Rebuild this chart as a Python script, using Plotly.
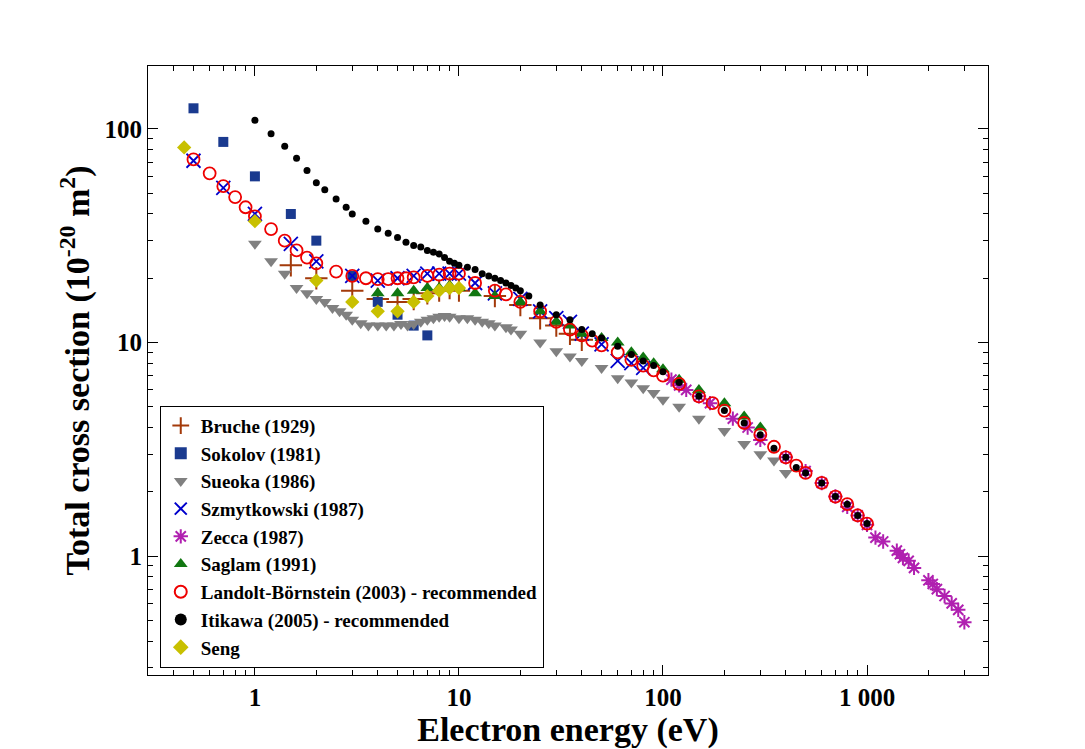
import plotly.graph_objects as go

bruche_x = [1.5, 2, 3, 4, 5, 6, 7, 8, 9, 10, 15, 20, 25, 30, 35, 40]
bruche_y = [23, 20, 17.5, 16, 15.5, 16, 17, 17.5, 18, 17.5, 16.5, 15, 13, 12, 11, 10.3]

sokolov_x = [0.5, 0.7, 1, 1.5, 2, 3, 4, 5, 6, 7]
sokolov_y = [125, 87, 60, 40, 30, 20.5, 15.5, 13.5, 12, 10.8]

sueoka_x = [1, 1.2, 1.4, 1.6, 1.8, 2, 2.2, 2.4, 2.6, 2.8, 3, 3.3, 3.6, 4, 4.4, 4.8, 5.2,
            5.6, 6, 6.5, 7, 7.5, 8, 8.5, 9, 10, 11, 12, 13, 14, 15, 17, 18, 20, 25, 30,
            35, 40, 50, 60, 70, 80, 90, 100, 120, 150, 200, 250, 300, 350, 400]
sueoka_y = [29, 24, 21, 18, 17, 16, 15.5, 14.5, 14, 13.5, 12.8, 12.3, 12, 12, 12, 12, 12.2,
            12, 12.2, 12.5, 12.8, 13, 13.2, 13.3, 13.2, 13, 13, 12.8, 12.5, 12.3, 12, 11.8,
            11.5, 11, 10, 9.1, 8.6, 8.2, 7.6, 6.8, 6.5, 6.1, 5.8, 5.4, 5.0, 4.4, 3.85,
            3.35, 3.0, 2.8, 2.45]

szmyt_x = [0.5, 0.7, 1, 1.5, 2, 3, 4, 5, 6, 7, 8, 9, 10, 12, 15, 20, 25, 30, 35, 40,
           50, 60, 70, 80]
szmyt_y = [71, 53, 40, 29, 24, 20.5, 19.5, 20, 20.5, 21, 21, 21, 21, 19, 17, 16, 14,
           13, 12.5, 11, 9.8, 8.2, 8, 7.6]

zecca_x = [110, 120, 130, 150, 170, 220, 260, 300, 400, 500, 600, 700, 800, 900, 1000,
           1100, 1200, 1400, 1450, 1500, 1600, 1700, 2000, 2100, 2200, 2400, 2600, 2800, 3000]
zecca_y = [6.7, 6.3, 6.0, 5.6, 5.2, 4.4, 4.0, 3.5, 2.9, 2.5, 2.2, 1.9, 1.7, 1.55, 1.4,
           1.22, 1.17, 1.06, 1.02, 0.98, 0.95, 0.88, 0.77, 0.74, 0.7, 0.65, 0.6, 0.56, 0.49]

saglam_x = [4, 5, 6, 7, 8, 9, 10, 12, 15, 20, 25, 30, 35, 40, 50, 60, 70, 80, 90, 100,
            120, 150, 200, 250, 300]
saglam_y = [17, 17, 17.5, 18, 18, 18.5, 18, 17, 16.5, 15.5, 14, 12.5, 12, 11, 10.5, 10,
            9, 8.5, 8, 7.5, 6.7, 6.0, 5.2, 4.5, 4.0]

landolt_x = [0.5, 0.6, 0.7, 0.8, 0.9, 1, 1.2, 1.4, 1.6, 1.8, 2, 2.5, 3, 3.5, 4, 4.5, 5,
             5.5, 6, 7, 8, 9, 10, 12, 15, 17, 20, 25, 30, 35, 40, 45, 50, 60, 70, 80, 90,
             100, 120, 150, 175, 200, 250, 300, 350, 400, 450, 500, 600, 700, 800, 900, 1000]
landolt_y = [72, 62, 54, 48, 43, 39, 34, 30, 27, 25, 23.5, 21.5, 20.5, 20, 19.8, 19.8, 20,
             20, 20.2, 20.5, 20.8, 21, 21, 19, 17.5, 16.8, 15.5, 14, 12.5, 11.5, 10.8, 10.2,
             9.7, 9, 8.3, 7.8, 7.4, 7, 6.4, 5.6, 5.2, 4.8, 4.2, 3.7, 3.25, 2.9, 2.65, 2.45,
             2.2, 1.9, 1.75, 1.55, 1.42]

itikawa_x = [1, 1.2, 1.4, 1.6, 1.8, 2, 2.2, 2.5, 2.8, 3, 3.5, 4, 4.5, 5, 5.5, 6, 6.5, 7,
             7.5, 8, 8.5, 9, 9.5, 10, 11, 12, 13, 14, 15, 16, 17, 18, 19, 20, 22, 25, 30,
             35, 40, 45, 50, 60, 70, 80, 90, 100, 120, 150, 200, 250, 300, 350, 400, 450,
             500, 600, 700, 800, 900, 1000]
itikawa_y = [110, 95, 83, 73, 64, 56, 52, 47, 43, 40, 37, 34, 32.5, 31, 29.5, 28.5, 28, 27,
             26.5, 26, 25, 24, 23.5, 23, 22.5, 22, 21, 20.5, 20, 19.5, 19, 18.5, 18, 17.5,
             16.5, 15, 13.5, 12.8, 11.5, 11, 10.5, 9.6, 8.8, 8.2, 7.8, 7.3, 6.5, 5.6, 4.8,
             4.2, 3.7, 3.2, 2.9, 2.6, 2.45, 2.2, 1.9, 1.75, 1.55, 1.42]

seng_x = [0.45, 1, 2, 3, 4, 5, 6, 7, 8, 9, 10]
seng_y = [82, 37, 19.5, 15.5, 14, 14, 15.5, 16.5, 17.5, 18, 18]

x_major = [1, 10, 100, 1000]
x_labels = ["1", "10", "100", "1 000"]
y_major = [1, 10, 100]
y_labels = ["1", "10", "100"]

series = [
    ("Bruche (1929)", bruche_x, bruche_y, dict(symbol="cross-thin", size=16, color="#a33a0a", line=dict(width=2, color="#a33a0a"))),
    ("Sokolov (1981)", sokolov_x, sokolov_y, dict(symbol="square", size=10, color="#1a3a8f")),
    ("Sueoka (1986)", sueoka_x, sueoka_y, dict(symbol="triangle-down", size=12, color="#808080")),
    ("Szmytkowski (1987)", szmyt_x, szmyt_y, dict(symbol="x-thin", size=14, color="#0000cc", line=dict(width=1.8, color="#0000cc"))),
    ("Zecca (1987)", zecca_x, zecca_y, dict(symbol="asterisk", size=12, color="#b020b0", line=dict(width=2, color="#b020b0"))),
    ("Saglam (1991)", saglam_x, saglam_y, dict(symbol="triangle-up", size=12, color="#117711")),
    ("Landolt-Börnstein (2003) - recommended", landolt_x, landolt_y, dict(symbol="circle-open", size=12, color="#ee0000", line=dict(width=1.8, color="#ee0000"))),
    ("Itikawa (2005) - recommended", itikawa_x, itikawa_y, dict(symbol="circle", size=7, color="black")),
    ("Seng", seng_x, seng_y, dict(symbol="diamond", size=11, color="#c8c000")),
]

fig = go.Figure()
for name, xs, ys, marker in series:
    fig.add_trace(go.Scatter(x=xs, y=ys, mode="markers", name=name, marker=marker))


def minor_vals(lo, hi):
    return [m * 10 ** e for e in range(lo, hi) for m in range(2, 10)]


bold = dict(family="Liberation Serif", color="black", weight="bold")
axis_common = dict(
    type="log", showgrid=False, zeroline=False, showline=True, linecolor="black",
    linewidth=1, mirror="ticks", ticks="inside", ticklen=10, tickcolor="black",
    tickfont=dict(bold, size=25), automargin=False,
)

fig.update_layout(
    width=1085, height=749,
    paper_bgcolor="white", plot_bgcolor="white",
    margin=dict(l=140, r=105, t=58, b=82),
    font=dict(family="Liberation Serif", color="black"),
    xaxis=dict(axis_common, range=[-0.524, 3.593], tickmode="array",
               tickvals=x_major, ticktext=x_labels,
               minor=dict(tickmode="array", tickvals=minor_vals(-1, 4), ticks="inside",
                          ticklen=5, tickcolor="black"),
               title=dict(text="Electron energy (eV)", font=dict(bold, size=34), standoff=2)),
    yaxis=dict(axis_common, range=[-0.557, 2.295], tickmode="array",
               tickvals=y_major, ticktext=y_labels,
               minor=dict(tickmode="array", tickvals=minor_vals(-1, 3), ticks="inside",
                          ticklen=5, tickcolor="black"),
               title=dict(text="Total cross section (10<sup>-20</sup> m<sup>2</sup>)",
                          font=dict(bold, size=34), standoff=4)),
    legend=dict(x=0.014, y=0.012, xanchor="left", yanchor="bottom",
                bgcolor="white", bordercolor="black", borderwidth=1,
                font=dict(bold, size=19),
                itemsizing="constant", tracegroupgap=0),
)

fig.write_html("out.html")
